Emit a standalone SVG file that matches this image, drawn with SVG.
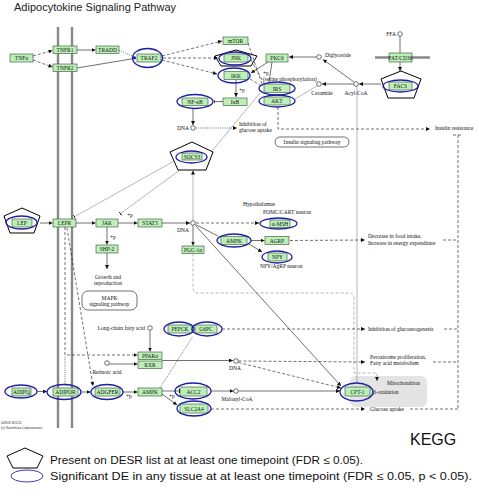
<svg xmlns="http://www.w3.org/2000/svg" width="479" height="500" viewBox="0 0 479 500">
<defs>
<style>
.g{fill:#bdf0b9;stroke:#2f4f2f;stroke-width:0.6}
.e{fill:none;stroke:#1e1ea6;stroke-width:1.3}
.p{fill:#fff;stroke:#000;stroke-width:1}
.t{font-family:"Liberation Serif",serif;font-size:5.5px;fill:#111;text-anchor:middle}
.l{font-family:"Liberation Serif",serif;font-size:5.5px;fill:#111}
.c{fill:#fff;stroke:#111;stroke-width:0.6}
.s{fill:none;stroke:#111;stroke-width:0.6}
.d{fill:none;stroke:#111;stroke-width:0.6;stroke-dasharray:3 2}
.o{fill:none;stroke:#111;stroke-width:0.6;stroke-dasharray:1 1.2}
.gl{fill:none;stroke:#888;stroke-width:0.6}
.gd{fill:none;stroke:#888;stroke-width:0.6;stroke-dasharray:3 2}
.m{stroke:#888;stroke-width:2.4}
.leg{font-family:"Liberation Sans",Arial,sans-serif;font-size:11px;fill:#111}
</style>
<marker id="a" viewBox="0 0 6 6" refX="6" refY="3" markerWidth="4" markerHeight="4" markerUnits="userSpaceOnUse" orient="auto"><path d="M0,0 L6,3 L0,6 z" fill="#111"/></marker>
<marker id="b" viewBox="0 0 2 8" refX="2" refY="4" markerWidth="1" markerHeight="5" markerUnits="userSpaceOnUse" orient="auto"><rect width="2" height="8" fill="#111"/></marker>
</defs>
<rect width="479" height="500" fill="#fff"/>
<text x="14" y="11" font-family="Liberation Sans,Arial,sans-serif" font-size="11" fill="#222">Adipocytokine Signaling Pathway</text>

<g id="membranes">
<line class="m" x1="58" y1="27" x2="58" y2="428"/>
<line class="m" x1="72" y1="27" x2="72" y2="428"/>
<line class="m" x1="375" y1="57.5" x2="430" y2="57.5"/>
<rect x="350" y="376" width="77" height="31" rx="6" fill="#e4e4e4"/>
</g>

<g id="connectors">
<path class="d" d="M33,56 L52.5,50.5" marker-end="url(#a)"/>
<path class="d" d="M33,60 L52.5,67" marker-end="url(#a)"/>
<path class="s" d="M77,50 L95.5,50" marker-end="url(#a)"/>
<path class="o" d="M119,50 L134,57"/>
<path class="s" d="M77,68 L134,58.5"/>
<circle cx="134.5" cy="57.8" r="1.6" fill="#1e1ea6"/>
<path class="d" d="M162,56 L222,41" marker-end="url(#a)"/>
<path class="d" d="M163,58 L218,58" marker-end="url(#a)"/>
<path class="d" d="M162,60 L217,74" marker-end="url(#a)"/>
<path class="d" d="M248,43 L262,84"/>
<path class="d" d="M251,60 L264,83"/>
<path class="d" d="M250,79 L260,85"/>
<path class="s" d="M268,62 L251,73" marker-end="url(#a)"/>
<path class="s" d="M272,62 L269,82"/>
<path class="s" d="M316.5,57 L289,57" marker-end="url(#a)"/>
<path class="s" d="M354,82 L323,59.5" marker-end="url(#a)"/>
<path class="s" d="M381,84 L359,84" marker-end="url(#a)" stroke-width="0.9"/>
<path class="s" d="M353.5,84 L322,84" marker-end="url(#a)" stroke-width="0.9"/>
<path class="s" d="M400,36.5 L400,53"/>
<path class="s" d="M400,62 L400,71" marker-end="url(#a)"/>
<path class="gl" d="M317,86 L295,99"/>
<path class="s" d="M236,80 L236,97" marker-end="url(#a)"/>
<path class="s" d="M223,101.5 L213.5,101.5" marker-end="url(#b)"/>
<path class="s" d="M193,108 L193,125" marker-end="url(#a)"/>
<path class="o" d="M196,128 L237,128" marker-end="url(#a)"/>
<path class="gl" d="M212,151 L260,93"/>
<path class="d" d="M278,107 V129 H430" marker-end="url(#a)"/>
<path class="gl" d="M357,86.5 V383"/>
<path class="d" d="M458,135 V410 M453,135 H463 M443,240 H458 M444,329 H458 M433,362 H458 M410,409 H458"/>
<path class="gl" d="M193,220.5 V170.5" marker-end="url(#a)"/>
<path class="gl" d="M176,160 L74,217" marker-end="url(#b)"/>
<path class="gl" d="M184,167 L120,214" marker-end="url(#b)"/>
<path class="s" d="M40,223 L52.5,223" marker-end="url(#a)"/>
<path class="s" d="M76,223 L95.5,223" marker-end="url(#a)"/>
<path class="s" d="M118,223 L137.5,223" marker-end="url(#a)"/>
<path class="s" d="M162,223 L190,223" marker-end="url(#a)"/>
<path class="d" d="M196,223 L259,223" marker-end="url(#a)"/>
<path class="s" d="M195.5,224.5 L218,236"/>
<path class="s" d="M195.5,225.5 L341,386" marker-end="url(#a)"/>
<path class="s" d="M193,225.5 V245.5" marker-end="url(#a)"/>
<path class="gd" d="M193,253.5 V288 Q193,293 198,293 H349 Q354,293 354,298 V373 H377 V381" marker-end="url(#a)"/>
<path class="s" d="M251,240.5 L264.5,240.5" marker-end="url(#a)"/>
<path class="s" d="M249,244 L262,252" marker-end="url(#a)"/>
<path class="d" d="M290,240.5 L365,240" marker-end="url(#a)"/>
<path class="s" d="M107,227 V244.5" marker-end="url(#a)"/>
<path class="s" d="M107,253 V269" marker-end="url(#a)"/>
<path class="s" d="M150,330.5 V351.5" marker-end="url(#a)"/>
<path class="d" d="M65,227 V355 H137.5" marker-end="url(#a)"/>
<path class="o" d="M65,384 V356"/>
<path class="d" d="M67,228 L93,386" marker-end="url(#a)"/>
<path class="s" d="M109.5,364 L137.5,364" marker-end="url(#a)"/>
<path class="s" d="M162,360.5 L233,360.5" marker-end="url(#a)" stroke-width="0.8"/>
<path class="d" d="M238.5,361 L365,362" marker-end="url(#a)"/>
<path class="d" d="M238.5,362.5 L341,388" marker-end="url(#a)"/>
<path class="d" d="M222,329 L365,329" marker-end="url(#a)"/>
<path class="o" d="M160,388 L193,336"/>
<path class="s" d="M37,391.5 L47,391.5" marker-end="url(#a)"/>
<path class="s" d="M81,392 L90.5,392" marker-end="url(#a)"/>
<path class="s" d="M123,392 L137.5,392" marker-end="url(#a)"/>
<path class="s" d="M162,391 L180,391" marker-end="url(#b)"/>
<path class="s" d="M162,394 L177,405" marker-end="url(#a)"/>
<path class="s" d="M211,391 L233.5,391" marker-end="url(#a)"/>
<path class="s" d="M238.5,391 L340,391" stroke-width="0.9" marker-end="url(#a)"/>
<path class="d" d="M211,409 L365,409" marker-end="url(#a)"/>
</g>

<g id="compounds">
<circle class="c" cx="400" cy="34" r="2.3"/><text class="l" x="396" y="36" text-anchor="end">FFA</text>
<circle class="c" cx="319" cy="57" r="2.3"/><text class="l" x="325" y="57">Diglyceride</text>
<circle class="c" cx="319" cy="84" r="2.3"/><text class="t" x="322" y="95">Ceramide</text>
<circle class="c" cx="356" cy="84" r="2.3"/><text class="t" x="356" y="95">Acyl-CoA</text>
<circle class="c" cx="193" cy="128" r="2.3"/><text class="l" x="189" y="130" text-anchor="end">DNA</text>
<circle class="c" cx="193" cy="223" r="2.3"/><text class="l" x="189" y="232" text-anchor="end">DNA</text>
<circle class="c" cx="150" cy="328" r="2.3"/><text class="l" x="145" y="330" text-anchor="end">Long-chain fatty acid</text>
<circle class="c" cx="107" cy="363" r="2.3"/><text class="t" x="107" y="374">Retinoic acid</text>
<circle class="c" cx="236" cy="361" r="2.3"/><text class="t" x="235" y="370">DNA</text>
<circle class="c" cx="236" cy="391" r="2.3"/><text class="t" x="237" y="401">Malonyl-CoA</text>
</g>

<g id="TNFa"><rect class="g" x="10" y="54" width="23" height="8"/><text class="t" x="21.5" y="60">TNFα</text></g>
<g id="TNFR1"><rect class="g" x="53" y="46" width="24" height="7.5"/><text class="t" x="65" y="52">TNFR1</text></g>
<g id="TNFR2"><rect class="g" x="53" y="64" width="24" height="7.5"/><text class="t" x="65" y="70">TNFR2</text></g>
<g id="TRADD"><rect class="g" x="96" y="46" width="23" height="7.5"/><text class="t" x="107.5" y="52">TRADD</text></g>
<g id="TRAF2"><rect class="g" x="137" y="54" width="24" height="8"/><text class="t" x="149" y="60">TRAF2</text><ellipse class="e" cx="147.5" cy="58" rx="15" ry="9.5"/></g>
<g id="mTOR"><rect class="g" x="223" y="37" width="25" height="7.5"/><text class="t" x="235.5" y="43">mTOR</text></g>
<g id="JNK"><polygon class="p" style="fill:none" points="236,50 257,56 251,66 221,66 215,56"/><rect class="g" x="224" y="54" width="24" height="8"/><text class="t" x="236" y="60">JNK</text><ellipse class="e" cx="235" cy="58.5" rx="16" ry="6.5"/></g>
<g id="IKK"><rect class="g" x="224" y="71.5" width="24" height="8"/><text class="t" x="236" y="77.5">IKK</text><ellipse class="e" cx="234" cy="75.5" rx="16" ry="7.5"/></g>
<g id="PKC"><rect class="g" x="266" y="54" width="22" height="8"/><text class="t" x="277" y="60">PKCθ</text></g>
<g id="IRS"><rect class="g" x="264" y="84" width="26" height="8.5"/><text class="t" x="277" y="90.5">IRS</text><ellipse class="e" cx="277" cy="88.5" rx="18" ry="6.5"/></g>
<g id="AKT"><rect class="g" x="264" y="97" width="26" height="8"/><text class="t" x="277" y="103">AKT</text><ellipse class="e" cx="277" cy="101" rx="18" ry="6"/></g>
<g id="IkB"><rect class="g" x="223" y="98" width="24" height="7.5"/><text class="t" x="235" y="104">IκB</text></g>
<g id="NFkB"><rect class="g" x="182" y="98" width="26" height="7.5"/><text class="t" x="195" y="104">NF-κB</text><ellipse class="e" cx="195" cy="101.5" rx="18" ry="7"/></g>
<g id="FATCD36"><rect class="g" x="389" y="53" width="23" height="9"/><text class="t" x="400.5" y="59.5">FAT/CD36</text></g>
<g id="FACS"><polygon class="p" points="401,71 421,79 414,98 388,98 381,79"/><rect class="g" x="389" y="82" width="23" height="8"/><text class="t" x="400.5" y="88">FACS</text><ellipse class="e" cx="400.5" cy="86" rx="17.5" ry="6"/></g>
<g id="SOCS3"><polygon class="p" points="192,142 213,152 206,170 178,170 170,152"/><rect class="g" x="182" y="153" width="20" height="7"/><text class="t" x="192" y="158.5">SOCS3</text><ellipse class="e" cx="191.5" cy="157" rx="15.5" ry="6"/></g>
<g id="LEP"><polygon class="p" points="22,208 40,216 34,233 10,233 4,216"/><rect class="g" x="12" y="219" width="20" height="8"/><text class="t" x="22" y="225">LEP</text><ellipse class="e" cx="21.5" cy="222.5" rx="15.5" ry="6.5"/></g>
<g id="LEPR"><rect class="g" x="53" y="219" width="23" height="8"/><text class="t" x="64.5" y="225">LEPR</text></g>
<g id="JAK"><rect class="g" x="96" y="219" width="22" height="8"/><text class="t" x="107" y="225">JAK</text></g>
<g id="STAT3"><rect class="g" x="138" y="219" width="24" height="8"/><text class="t" x="150" y="225">STAT3</text></g>
<g id="aMSH"><rect class="g" x="270" y="220" width="20" height="7.5"/><text class="t" x="280" y="226">α-MSH</text><ellipse class="e" cx="278.5" cy="223.5" rx="18.5" ry="5.5"/></g>
<g id="AMPKh"><rect class="g" x="221" y="236.5" width="26" height="8"/><text class="t" x="234" y="242.5">AMPK</text><ellipse class="e" cx="234" cy="240.5" rx="17" ry="6.5"/></g>
<g id="AgRP"><rect class="g" x="265" y="236.5" width="24" height="8"/><text class="t" x="277" y="242.5">AGRP</text></g>
<g id="NPY"><rect class="g" x="268" y="253" width="19" height="8"/><text class="t" x="277.5" y="259">NPY</text><ellipse class="e" cx="277" cy="257" rx="15" ry="6"/></g>
<g id="PGC1a"><rect class="g" x="182" y="246" width="22" height="7.5"/><text class="t" x="193" y="252">PGC-1α</text></g>
<g id="SHP2"><rect class="g" x="96" y="245" width="22" height="8"/><text class="t" x="107" y="251">SHP-2</text></g>
<g id="PEPCK"><rect class="g" x="168" y="325" width="24" height="8"/><text class="t" x="180" y="331">PEPCK</text><ellipse class="e" cx="179" cy="329" rx="15" ry="7"/></g>
<g id="G6PC"><rect class="g" x="195" y="325" width="22" height="8"/><text class="t" x="206" y="331">G6PC</text><ellipse class="e" cx="207" cy="329" rx="15" ry="7"/></g>
<g id="PPARa"><rect class="g" x="138" y="352" width="24" height="7.5"/><text class="t" x="150" y="358">PPARα</text></g>
<g id="RXR"><rect class="g" x="138" y="361" width="24" height="7.5"/><text class="t" x="150" y="367">RXR</text></g>
<g id="ADIPQ"><rect class="g" x="12" y="388" width="19" height="8"/><text class="t" x="21.5" y="394">ADIPQ</text><ellipse class="e" cx="21" cy="391.5" rx="16" ry="6.5"/></g>
<g id="ADIPOR"><rect class="g" x="53" y="388" width="25" height="8"/><text class="t" x="65.5" y="394">ADIPOR</text><ellipse class="e" cx="64" cy="392" rx="17" ry="7.5"/></g>
<g id="ADGFER"><rect class="g" x="95" y="388" width="25" height="8"/><text class="t" x="107.5" y="394">ADGFER</text><ellipse class="e" cx="107" cy="392" rx="16" ry="7.5"/></g>
<g id="AMPK"><rect class="g" x="138" y="388" width="24" height="8"/><text class="t" x="150" y="394">AMPK</text></g>
<g id="ACC2"><rect class="g" x="180" y="387" width="27" height="9"/><text class="t" x="193.5" y="393.5">ACC2</text><ellipse class="e" cx="193" cy="391" rx="18" ry="8"/></g>
<g id="GLUT4"><rect class="g" x="180" y="404" width="28" height="9"/><text class="t" x="194" y="410.5">SLC2A4</text><ellipse class="e" cx="194" cy="408.5" rx="17" ry="7.5"/></g>
<g id="CPT1"><rect class="g" x="345" y="387" width="25" height="9"/><text class="t" x="357.5" y="393.5">CPT-1</text><ellipse class="e" cx="356.5" cy="392" rx="16.5" ry="9"/></g>

<g id="labels">
<text class="l" x="263" y="75">+p</text>
<text class="l" x="263" y="80.5">(serine phosphorylation)</text>
<text class="l" x="239" y="92">+p</text>
<text class="l" x="127" y="217">+p</text>
<text class="l" x="110" y="239">+p</text>
<text class="l" x="126" y="398">+p</text>
<text class="l" x="169" y="398">+p</text>
<text class="l" x="239" y="126">Inhibition of</text>
<text class="l" x="239" y="132">glucose uptake</text>
<rect x="275" y="137" width="74" height="10" rx="5" fill="#fff" stroke="#111" stroke-width="0.6"/>
<text class="t" x="312" y="144">Insulin signaling pathway</text>
<text class="l" x="435" y="130">Insulin resistance</text>
<text class="l" x="243" y="206">Hypothalamus</text>
<text class="l" x="263" y="214">POMC/CART neuron</text>
<text class="l" x="260" y="268">NPY/AgRP neuron</text>
<text class="l" x="368" y="238">Decrease in food intake,</text>
<text class="l" x="368" y="245">Increase in energy expenditure</text>
<text class="t" x="108" y="279">Growth and</text>
<text class="t" x="108" y="285">reproduction</text>
<rect x="82" y="291" width="55" height="19" rx="6" fill="#fff" stroke="#111" stroke-width="0.6"/>
<text class="t" x="109.5" y="299.5">MAPK</text>
<text class="t" x="109.5" y="305.5">signaling pathway</text>
<text class="l" x="368" y="331">Inhibition of gluconeogenesis</text>
<text class="l" x="370" y="359">Peroxisome proliferation,</text>
<text class="l" x="370" y="365">Fatty acid metabolism</text>
<text class="l" x="387" y="385">Mitochondrion</text>
<text class="l" x="373" y="394">β-oxidation</text>
<text class="l" x="370" y="411">Glucose uptake</text>
<text x="1" y="424" font-family="Liberation Sans,sans-serif" font-size="3.6" fill="#333">04920 8/1/11</text>
<text x="1" y="429" font-family="Liberation Sans,sans-serif" font-size="3.6" fill="#333">(c) Kanehisa Laboratories</text>
<text x="410" y="445" font-family="Liberation Sans,Arial,sans-serif" font-size="16" fill="#111">KEGG</text>
</g>

<g id="legend">
<polygon points="25,448 43,456 37,468 13,468 7,456" fill="#fff" stroke="#000" stroke-width="1"/>
<text class="leg" x="50" y="464" textLength="313" lengthAdjust="spacingAndGlyphs">Present on DESR list at at least one timepoint (FDR ≤ 0.05).</text>
<ellipse cx="27" cy="476" rx="16" ry="6" fill="none" stroke="#3a3ac8" stroke-width="1"/>
<text class="leg" x="50" y="480" textLength="422" lengthAdjust="spacingAndGlyphs">Significant DE in any tissue at at least one timepoint (FDR ≤ 0.05, p &lt; 0.05).</text>
</g>
</svg>
